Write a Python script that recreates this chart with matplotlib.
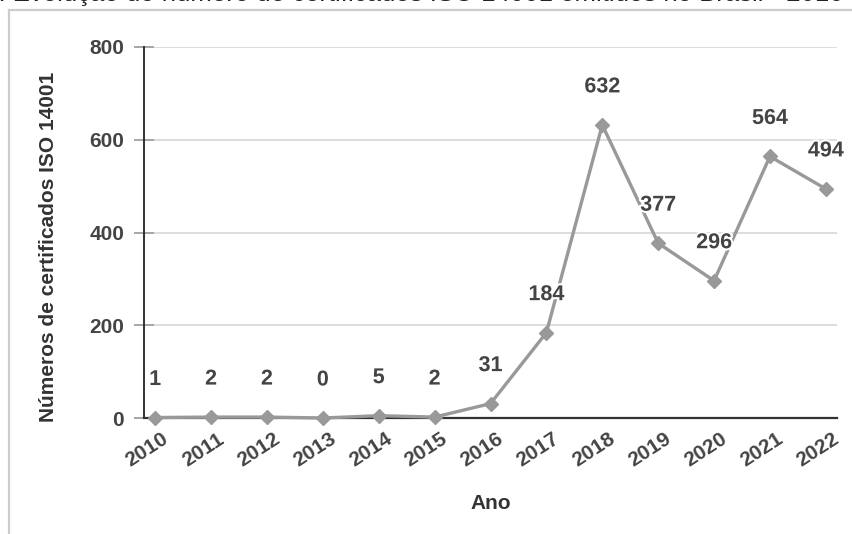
import matplotlib
matplotlib.use("Agg")
import matplotlib.pyplot as plt
import matplotlib.patheffects as pe
from matplotlib.lines import Line2D
from matplotlib.transforms import ScaledTranslation

plt.rcParams['font.family'] = ['Liberation Sans', 'DejaVu Sans']

# Certificados ISO 14001 emitidos no Brasil por ano
anos = ['2010', '2011', '2012', '2013', '2014', '2015', '2016',
        '2017', '2018', '2019', '2020', '2021', '2022']
certificados = [1, 2, 2, 0, 5, 2, 31, 184, 632, 377, 296, 564, 494]
y_ticks = [0, 200, 400, 600, 800]

titulo = "Figura 1: Evolução do número de certificados ISO 14001 emitidos no Brasil - 2010-2022"

W, H = 853, 534
fig = plt.figure(figsize=(W / 100, H / 100), dpi=100)

# moldura cinza em volta do grafico
fig.add_artist(Line2D([9 / W, 9 / W], [0, 1 - 10 / H], transform=fig.transFigure,
                      color='#cccccc', lw=1.6))
fig.add_artist(Line2D([9 / W, 1], [1 - 10 / H, 1 - 10 / H], transform=fig.transFigure,
                      color='#cccccc', lw=1.6))

ax = fig.add_axes([144 / W, 1 - 418 / H, (837 - 144) / W, (418 - 47) / H])
x = list(range(len(anos)))

ax.plot(x, certificados, color='#999999', lw=2.4, marker='D', ms=7.2,
        markeredgecolor='#999999', zorder=3, clip_on=False)

# rotulos com linha de chamada
offset_px = 38
for xi, v in zip(x, certificados):
    _, ypix = ax.transData.transform((xi, v))
    ytop = ax.transData.inverted().transform((0, ypix + offset_px - 9))[1]
    ax.plot([xi, xi], [v, ytop], color='#d9d9d9', lw=1.2, zorder=2.5, clip_on=False)
    ax.annotate(str(v), (xi, v), xytext=(0, offset_px), textcoords='offset pixels',
                ha='center', va='center', fontsize=15.5, fontweight='bold',
                color='#444444', zorder=4, annotation_clip=False,
                path_effects=[pe.withStroke(linewidth=3, foreground='white')])

ax.set_xlim(-0.2, 12.2)
ax.set_ylim(0, 800)
ax.set_yticks(y_ticks)
ax.set_xticks(x)
ax.set_xticklabels(anos, rotation=33, ha='right', va='top', rotation_mode='anchor',
                   fontsize=15, fontweight='bold', color='#444444')
ax.tick_params(axis='x', length=0, pad=8)
ax.tick_params(axis='y', direction='inout', length=14.5, width=1.4, color='#a6a6a6',
               labelsize=15, labelcolor='#444444', pad=7)
for lab in ax.get_yticklabels():
    lab.set_fontweight('bold')
for lab in ax.get_xticklabels():
    lab.set_transform(lab.get_transform() + ScaledTranslation(6 / 100, 0, fig.dpi_scale_trans))

ax.grid(axis='y', color='#dadada', lw=1.3)
ax.set_axisbelow(True)
for s in ['top', 'right']:
    ax.spines[s].set_visible(False)
ax.spines['left'].set_color('#222222')
ax.spines['left'].set_linewidth(1.3)
ax.spines['bottom'].set_color('#333333')
ax.spines['bottom'].set_linewidth(1.6)

ax.set_ylabel('Números de certificados ISO 14001', fontsize=15, fontweight='bold',
              color='#333333')
ax.yaxis.set_label_coords(-86 / (837 - 144), 0.5 - 14 / (418 - 47))
ax.set_xlabel('Ano', fontsize=15, fontweight='bold', color='#333333')
ax.xaxis.set_label_coords(0.5, -(494 - 418) / (418 - 47))

# titulo cortado no topo
t = fig.text(0, 1 - 1.5 / H, titulo, ha='left', va='baseline', fontsize=18.5, color='#222222')
r = fig.canvas.get_renderer()
pre = fig.text(0, 0, "Figura 1: ", fontsize=18.5)
w_pre = pre.get_window_extent(r).width
pre.remove()
t.set_x((13 - w_pre) / W)

fig.savefig('out.png', dpi=100)
